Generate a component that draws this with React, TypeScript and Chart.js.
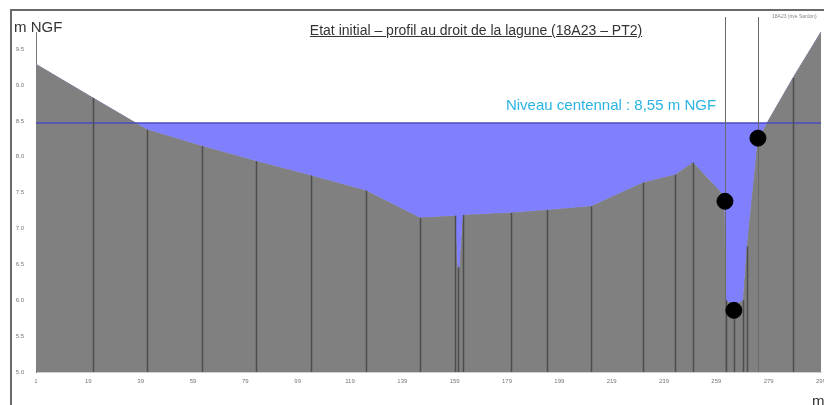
import React, { useEffect, useRef } from "react";
import { Chart, registerables } from "chart.js";

Chart.register(...registerables);

// Ground profile (distance in m, elevation in m NGF)
const distances = [0, 21.8, 42.4, 63.4, 84.1, 105.1, 126.1, 146.7, 160.1, 161.1, 161.8, 163.2, 181.5, 195.3, 212.1, 231.9, 244.2, 251.1, 262.9, 263.7, 266.7, 270.2, 271.7, 275.9, 289.3, 300];
const elevations = [9.29, 8.82, 8.38, 8.15, 7.94, 7.74, 7.53, 7.15, 7.18, 6.46, 6.42, 7.19, 7.22, 7.26, 7.31, 7.64, 7.75, 7.92, 7.46, 6.0, 5.93, 6.0, 6.75, 8.25, 9.1, 9.74];
const hasDropLine = [false, true, true, true, true, true, true, true, true, true, false, true, true, true, true, true, true, true, false, true, true, true, true, false, true, false];

// Flood level line
const waterLevel = 8.47;

// Measurement points
const dotX = [263.3, 266.7, 275.9];
const dotY = [7.38, 5.86, 8.26];

// Full-height marker lines
const markerX = [263.3, 275.9];

// Axis ticks
const yTicks = [5.0, 5.5, 6.0, 6.5, 7.0, 7.5, 8.0, 8.5, 9.0, 9.5];
const xTickValues = [0, 20, 40, 60, 80, 100, 120, 140, 160, 180, 200, 220, 240, 260, 280, 300];
const xTickLabels = ["1", "19", "39", "59", "79", "99", "119", "139", "159", "179", "199", "219", "239", "259", "279", "299"];

const GROUND = "rgb(128,128,128)";
const WATER = "rgb(128,128,255)";

const linesPlugin = {
  id: "profileLines",
  afterDatasetDraw(chart: any, args: any) {
    if (args.index !== 1) return;
    const ctx = chart.ctx;
    const area = chart.chartArea;
    const xs = chart.scales.x;
    const meta = chart.getDatasetMeta(0);
    ctx.save();
    ctx.strokeStyle = "#4d4d4d";
    ctx.lineWidth = 1.5;
    meta.data.forEach((pt: any, i: number) => {
      if (!hasDropLine[i]) return;
      ctx.beginPath();
      ctx.moveTo(Math.round(pt.x) + 0.5, pt.y);
      ctx.lineTo(Math.round(pt.x) + 0.5, area.bottom);
      ctx.stroke();
    });
    ctx.strokeStyle = "#6a6a6a";
    ctx.lineWidth = 1;
    markerX.forEach((v) => {
      const px = Math.round(xs.getPixelForValue(v)) + 0.5;
      ctx.beginPath();
      ctx.moveTo(px, 17);
      ctx.lineTo(px, area.bottom);
      ctx.stroke();
    });
    ctx.restore();
  },
};

export default function App() {
  const ref = useRef<HTMLCanvasElement>(null);
  useEffect(() => {
    if (!ref.current) return;
    const ground = distances.map((d, i) => ({ x: d, y: elevations[i] }));
    const water = distances.map((d) => ({ x: d, y: waterLevel }));
    const dots = dotX.map((d, i) => ({ x: d, y: dotY[i] }));
    const chart = new Chart(ref.current, {
      type: "line",
      data: {
        datasets: [
          {
            data: ground,
            borderColor: GROUND,
            borderWidth: 1,
            backgroundColor: GROUND,
            fill: "start",
            pointRadius: 0,
            tension: 0,
            order: 3,
          },
          {
            data: water,
            borderColor: "#4b4bc0",
            borderWidth: 1.5,
            fill: { target: 0, above: WATER, below: "rgba(0,0,0,0)" },
            pointRadius: 0,
            tension: 0,
            order: 2,
          },
          {
            type: "scatter",
            data: dots,
            backgroundColor: "#000",
            borderColor: "#000",
            pointRadius: 8,
            order: 1,
          } as any,
        ],
      },
      options: {
        animation: false,
        responsive: true,
        maintainAspectRatio: false,
        layout: { autoPadding: false, padding: { left: 10, top: 32, right: 3, bottom: 0 } },
        plugins: {
          legend: { display: false },
          tooltip: { enabled: false },
        },
        scales: {
          x: {
            type: "linear",
            min: 0,
            max: 300,
            grid: { display: false, drawTicks: false },
            border: { display: true, color: "#d0d0d0", width: 1 },
            afterBuildTicks: (axis: any) => {
              axis.ticks = xTickValues.map((v) => ({ value: v }));
            },
            afterFit: (scale: any) => {
              scale.height = 33;
              scale.paddingLeft = 0;
              scale.paddingRight = 0;
            },
            ticks: {
              autoSkip: false,
              maxRotation: 0,
              padding: 6,
              color: "#777",
              font: { size: 6, family: "Liberation Sans" },
              callback: (v: any) => {
                const i = xTickValues.indexOf(Number(v));
                return i >= 0 ? xTickLabels[i] : "";
              },
            },
          },
          y: {
            type: "linear",
            min: 5,
            max: 9.74,
            grid: { display: false, drawTicks: false },
            border: { display: true, color: "#777", width: 1 },
            afterBuildTicks: (axis: any) => {
              axis.ticks = yTicks.map((v) => ({ value: v }));
            },
            afterFit: (scale: any) => {
              scale.width = 26;
              scale.paddingTop = 0;
              scale.paddingBottom = 0;
            },
            ticks: {
              padding: 12,
              color: "#777",
              font: { size: 6, family: "Liberation Sans" },
              callback: (v: any) => Number(v).toFixed(1),
            },
          },
        },
      },
      plugins: [linesPlugin],
    });
    return () => chart.destroy();
  }, []);

  const txt: React.CSSProperties = { position: "absolute", whiteSpace: "nowrap", lineHeight: 1 };
  return (
    <div style={{ position: "fixed", left: 0, top: 0, width: 824, height: 405, background: "#fff", overflow: "hidden", fontFamily: "'Liberation Sans', Arial, sans-serif" }}>
      <div style={{ position: "absolute", left: 10, top: 9, width: 830, height: 410, borderLeft: "2px solid #6a6a6a", borderTop: "2px solid #6a6a6a" }} />
      <div style={{ position: "absolute", left: 0, top: 0, width: 824, height: 405 }}>
        <canvas ref={ref} />
      </div>
      <div style={{ ...txt, left: 14, top: 19, fontSize: 15, color: "#333" }}>m NGF</div>
      <div style={{ ...txt, left: 476, top: 30, transform: "translate(-50%,-50%)", fontSize: 14, color: "#333", textDecoration: "underline" }}>
        Etat initial – profil au droit de la lagune (18A23 – PT2)
      </div>
      <div style={{ ...txt, left: 611, top: 104, transform: "translate(-50%,-50%)", fontSize: 15, color: "#2ab3e4" }}>
        Niveau centennal : 8,55 m NGF
      </div>
      <div style={{ ...txt, left: 772, top: 14, fontSize: 5, color: "#888" }}>18A23 (rive Sardon)</div>
      <div style={{ ...txt, left: 812, top: 393, fontSize: 15, color: "#333" }}>m</div>
    </div>
  );
}
